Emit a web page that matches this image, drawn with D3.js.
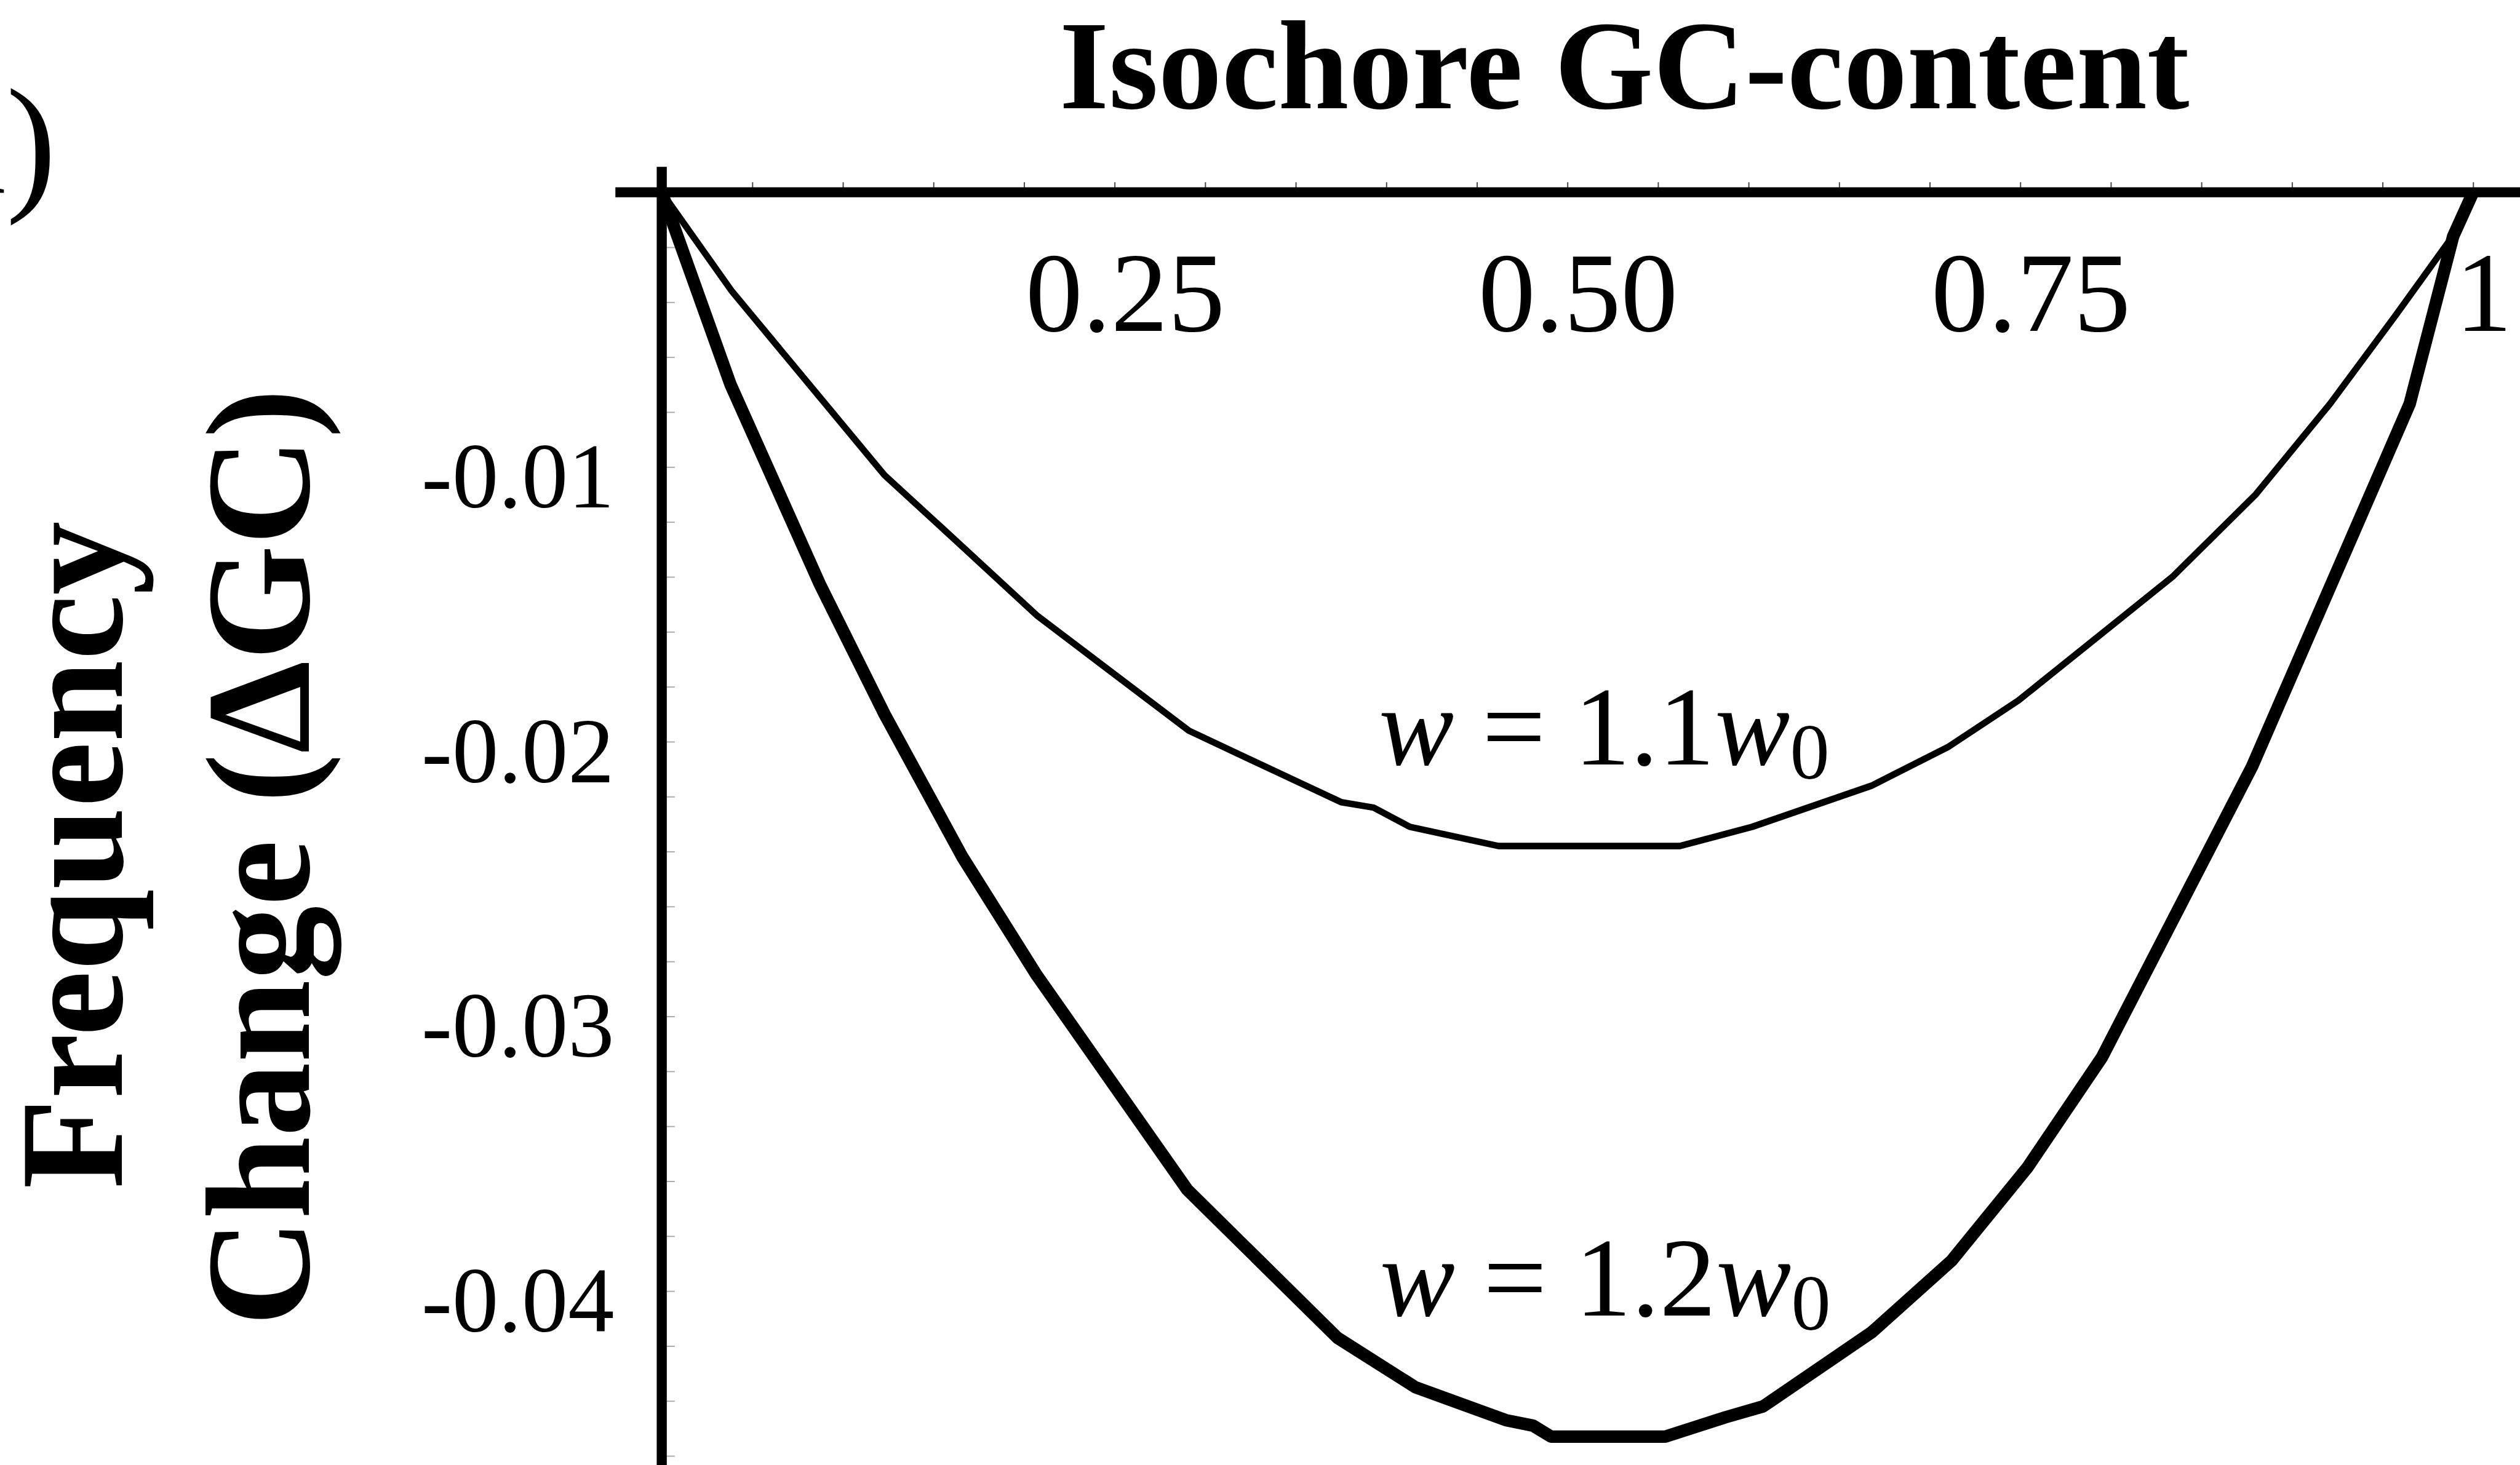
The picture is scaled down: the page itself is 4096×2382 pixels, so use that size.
<!DOCTYPE html>
<html>
<head>
<meta charset="utf-8">
<script src="https://cdn.jsdelivr.net/npm/d3@7"></script>
<style>
  html, body { margin: 0; padding: 0; background: #fff; overflow: hidden; }
  svg { display: block; }
  text { font-family: "Liberation Serif", "Times New Roman", serif; fill: #000; }
</style>
</head>
<body>
<script>
// ---------- data ----------
const xTickValues = [0.25, 0.5, 0.75, 1];
const xTickLabels = ["0.25", "0.50", "0.75", "1"];
const yTickValues = [-0.01, -0.02, -0.03, -0.04];
const yTickLabels = ["-0.01", "-0.02", "-0.03", "-0.04"];

// w = 1.1 w0 (thin curve)
const gcThin = [0, 0.0387, 0.123, 0.166, 0.207, 0.291, 0.375, 0.393, 0.413, 0.462, 0.562, 0.602, 0.668, 0.710, 0.749, 0.834, 0.880, 0.921, 0.957, 0.992, 1.0];
const dThin  = [0, -0.0036, -0.0103, -0.0129, -0.0154, -0.0196, -0.0222, -0.0224, -0.0231, -0.0238, -0.0238, -0.0231, -0.0216, -0.0202, -0.0185, -0.0140, -0.0110, -0.0077, -0.0045, -0.0013, 0];

// w = 1.2 w0 (thick curve)
const gcThick = [0, 0.038, 0.0875, 0.123, 0.166, 0.207, 0.290, 0.373, 0.416, 0.466, 0.481, 0.491, 0.554, 0.587, 0.608, 0.668, 0.712, 0.754, 0.795, 0.878, 0.965, 0.989, 1.0];
const dThick  = [0, -0.0070, -0.0143, -0.0190, -0.0242, -0.0285, -0.0363, -0.0417, -0.0435, -0.0447, -0.0449, -0.0453, -0.0453, -0.0446, -0.0442, -0.0415, -0.0389, -0.0355, -0.0315, -0.0209, -0.0077, -0.0016, 0];

// ---------- layout ----------
const W = 4246, H = 2469;
const svg = d3.select("body").append("svg")
  .attr("width", 4096).attr("height", 2382)
  .attr("viewBox", `0 0 ${W} ${H}`);

const x = d3.scaleLinear().domain([0, 1]).range([1115, 4167]);
const y = d3.scaleLinear().domain([-0.04633, 0]).range([2469, 324]);

const line = d3.line().x(d => x(d[0])).y(d => y(d[1]));

// curves
svg.append("path")
  .datum(d3.zip(gcThin, dThin))
  .attr("d", line).attr("fill", "none").attr("stroke", "#000")
  .attr("stroke-width", 11).attr("stroke-linejoin", "round");

svg.append("path")
  .datum(d3.zip(gcThick, dThick))
  .attr("d", line).attr("fill", "none").attr("stroke", "#000")
  .attr("stroke-width", 21).attr("stroke-linejoin", "round");

// minor ticks on x axis (pointing up)
const gx = svg.append("g").attr("transform", `translate(0,${y(0) - 8})`)
  .call(d3.axisTop(x).tickValues(d3.range(0, 1.0001, 0.05)).tickSize(9).tickFormat(""));
gx.select(".domain").remove();
gx.selectAll(".tick line").attr("stroke", "#444").attr("stroke-width", 2);

// minor ticks on y axis (pointing right)
const gy = svg.append("g").attr("transform", `translate(${x(0) + 8},0)`)
  .call(d3.axisRight(y).tickValues(d3.range(-0.046, 0.0001, 0.002)).tickSize(14).tickFormat(""));
gy.select(".domain").remove();
gy.selectAll(".tick line").attr("stroke", "#aaa").attr("stroke-width", 2);

// axis lines
svg.append("line")
  .attr("x1", x(-0.0256)).attr("x2", x(1.03))
  .attr("y1", y(0)).attr("y2", y(0))
  .attr("stroke", "#000").attr("stroke-width", 17);
svg.append("line")
  .attr("x1", x(0)).attr("x2", x(0))
  .attr("y1", y(0.00093)).attr("y2", y(-0.047))
  .attr("stroke", "#000").attr("stroke-width", 17);

// x tick labels
svg.append("g").selectAll("text").data(xTickValues).join("text")
  .attr("x", d => x(d) + 18).attr("y", y(0) + 234)
  .attr("text-anchor", "middle").attr("font-size", 192)
  .text((d, i) => xTickLabels[i]);

// y tick labels
svg.append("g").selectAll("text").data(yTickValues).join("text")
  .attr("x", 1035).attr("y", d => y(d) + 68)
  .attr("text-anchor", "end").attr("font-size", 156)
  .text((d, i) => yTickLabels[i]);

// title
svg.append("text").attr("x", 2737).attr("y", 182)
  .attr("text-anchor", "middle").attr("font-size", 214).attr("font-weight", "bold")
  .text("Isochore GC-content");

// y title (two lines, rotated)
svg.append("text").attr("transform", "translate(205,1441) rotate(-90)")
  .attr("text-anchor", "middle").attr("font-size", 248).attr("font-weight", "bold")
  .text("Frequency");
svg.append("text").attr("transform", "translate(520,1445) rotate(-90)")
  .attr("text-anchor", "middle").attr("font-size", 250).attr("font-weight", "bold")
  .text("Change (\u0394GC)");

// panel label (clipped at left edge)
svg.append("text").attr("x", 95).attr("y", 325)
  .attr("text-anchor", "end").attr("font-size", 255)
  .text("(a)");

// curve labels
function curveLabel(x0, yb, factor) {
  const t = svg.append("text").attr("x", x0).attr("y", yb).attr("font-size", 190);
  t.append("tspan").attr("font-style", "italic").text("w");
  t.append("tspan").text(" = " + factor);
  t.append("tspan").attr("font-style", "italic").text("w");
  t.append("tspan").attr("font-size", 133).attr("dy", 24).text("0");
}
curveLabel(2323, 1288, "1.1");
curveLabel(2325, 2217, "1.2");
</script>
</body>
</html>
